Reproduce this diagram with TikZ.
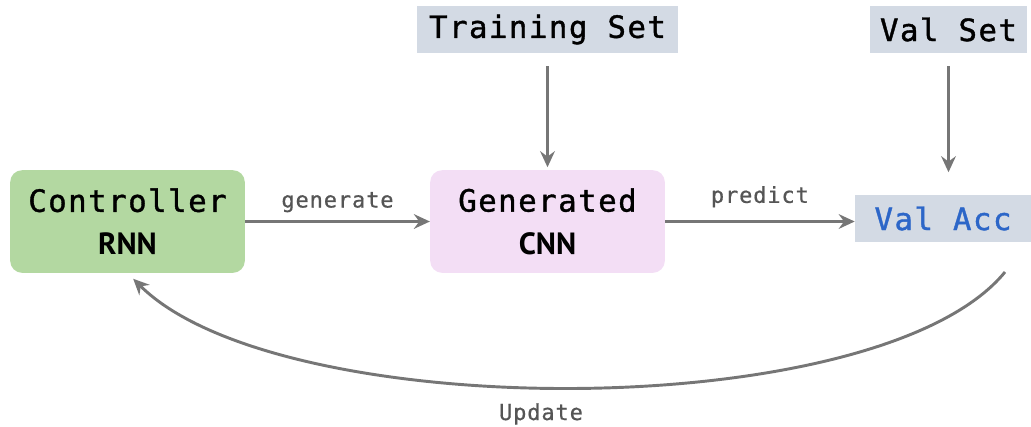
\documentclass[tikz,border=0pt]{standalone}
\usepackage{fontspec}
\usetikzlibrary{arrows.meta}
\newfontfamily\labfont[LetterSpace=5,FakeBold=1.2]{DejaVu Sans Mono}
\newfontfamily\smallfont[LetterSpace=4,FakeBold=0.6]{DejaVu Sans Mono}
\newfontfamily\capfont{PT Sans}
\definecolor{ctrlgreen}{HTML}{B3D8A1}
\definecolor{genpink}{HTML}{F3DEF5}
\definecolor{setgrey}{HTML}{D3DAE4}
\definecolor{accblue}{HTML}{2C66C8}
\definecolor{arrgrey}{HTML}{767676}
\definecolor{txtgrey}{HTML}{555555}
\tikzset{
  blockbox/.style={fill=#1,rounded corners=9pt,minimum width=176pt,minimum height=77pt,
    align=center,inner sep=0pt,font=\labfont\fontsize{23}{32}\selectfont},
  databox/.style={fill=setgrey,minimum height=35pt,inner sep=0pt,
    font=\labfont\fontsize{23}{26}\selectfont},
  flow/.style={draw=arrgrey,line width=2.2pt,-{Stealth[length=12pt,width=11pt,inset=4pt]}},
  flowtext/.style={text=txtgrey,anchor=base,font=\smallfont\fontsize{16.5}{19}\selectfont}
}
\begin{document}
\begin{tikzpicture}[x=0.75pt,y=-0.75pt]
\useasboundingbox (0,0) rectangle (1031,426);
% ---- 三个主框 ----
\node[blockbox=ctrlgreen] (ctrl) at (127.5,221.5) {Controller\\{\capfont\bfseries\fontsize{23}{32}\selectfont RNN}};
\node[blockbox=genpink] (gen) at (547.5,221.5) {Generated\\{\capfont\bfseries\fontsize{23}{32}\selectfont CNN}};
\node[databox,minimum width=132pt,text=accblue] (valacc) at (943,218.5) {Val Acc};
% ---- 数据集 ----
\node[databox,minimum width=196pt] (train) at (547.5,29.5) {Training Set};
\node[databox,minimum width=118pt] (valset) at (948.5,29.5) {Val Set};
% ---- 箭头 ----
\draw[flow] (ctrl.east) -- node[flowtext,midway,yshift=10.5pt] (gentxt) {generate} (gen.west);
\draw[flow] (gen.east) -- node[flowtext,midway,yshift=14pt] (predtxt) {predict} (gen.east -| valacc.west);
\draw[flow,shorten <=10pt,shorten >=2pt] (train.south) -- (gen.north);
\draw[flow,shorten <=10pt,shorten >=17pt] (valset.south) -- (valset.south |- valacc.north);
% ---- Update 回路 ----
\coordinate (updstart) at (1005,272);
\draw[flow,shorten >=6pt] (updstart) .. controls (880,425) and (280,425) .. (ctrl.south);
\node[flowtext] (updtxt) at (541,420) {Update};
\end{tikzpicture}
\end{document}
